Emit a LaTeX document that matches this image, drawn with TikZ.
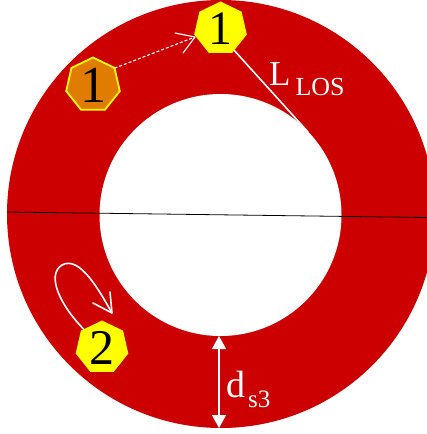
\documentclass[tikz,border=0pt]{standalone}
\usepackage{fontspec}
\setmainfont{Liberation Serif}
\usetikzlibrary{shapes.geometric,arrows.meta,calc}
\definecolor{ringred}{RGB}{204,0,0}
\definecolor{hexorange}{RGB}{224,124,0}
\definecolor{hexyellow}{RGB}{255,255,0}
\tikzset{
  hepta/.style={regular polygon, regular polygon sides=7, inner sep=0pt, outer sep=0pt, text=black},
  whiteline/.style={draw=white, line width=1.6pt},
  barb/.style={draw=white, line cap=round, line join=round},
}
\begin{document}
\begin{tikzpicture}[x=1pt,y=-1pt]
\useasboundingbox (0,0) rectangle (427,434);
\clip (0,0) rectangle (427,434);
% ring
\node[circle, fill=ringred, minimum size=428pt, inner sep=0pt, outer sep=0pt] (outer) at (221,214) {};
\node[circle, fill=white, minimum size=242pt, inner sep=0pt, outer sep=0pt] (inner) at (220.5,215) {};
% horizontal line
\coordinate (hl) at (7,212);
\coordinate (hr) at (427,217.5);
\draw[black, line width=0.8pt] (hl) -- (hr);
% heptagons
\node[hepta, fill=hexyellow, minimum size=54pt, font=\fontsize{48}{48}\selectfont] (y1) at (220.5,28.5) {1};
\node[hepta, fill=hexorange, draw=hexyellow, line width=1.8pt, minimum size=55pt, font=\fontsize{52}{52}\selectfont] (o1) at (93,85) {1};
\node[hepta, fill=hexyellow, minimum size=54pt, font=\fontsize{50}{50}\selectfont] (y2) at (102,347.5) {2};
% dashed move arrow
\coordinate (dtip) at (195,37);
\draw[draw=white, line width=1.1pt, dash pattern=on 3pt off 2pt] (o1.38) -- (dtip);
\draw[barb, line width=1.1pt] ($(dtip)+(-20,-4)$) -- (dtip) -- ($(dtip)+(-12,16)$);
% L LOS line
\coordinate (losend) at (308,132);
\draw[whiteline] (y1.-58) -- (losend);
\node[anchor=base west, text=white, inner sep=0pt] (llos) at (269,85) {\fontsize{35}{35}\selectfont L\kern5pt\raisebox{-10pt}{\fontsize{26}{26}\selectfont LOS}};
% loop arrow
\coordinate (loopend) at (112,313);
\draw[whiteline] (y2.135) .. controls (60,305) and (46,275) .. (62,265) .. controls (80,255) and (100,292) .. (loopend);
\draw[barb, line width=1.6pt] ($(loopend)+(-2,-21)$) -- (loopend) -- ($(loopend)+(-19,-10)$);
% d_s3 arrow
\draw[draw=white, line width=1.2pt, {Triangle[width=14pt,length=13pt]}-{Triangle[width=14pt,length=13pt]}] ([xshift=-1.5pt]inner.south) -- ([xshift=-2pt]outer.south);
\node[anchor=base west, text=white, inner sep=0pt] (ds3) at (226,397) {\fontsize{38}{38}\selectfont d\kern3pt\raisebox{-10pt}{\fontsize{25}{25}\selectfont s3}};
\end{tikzpicture}
\end{document}
